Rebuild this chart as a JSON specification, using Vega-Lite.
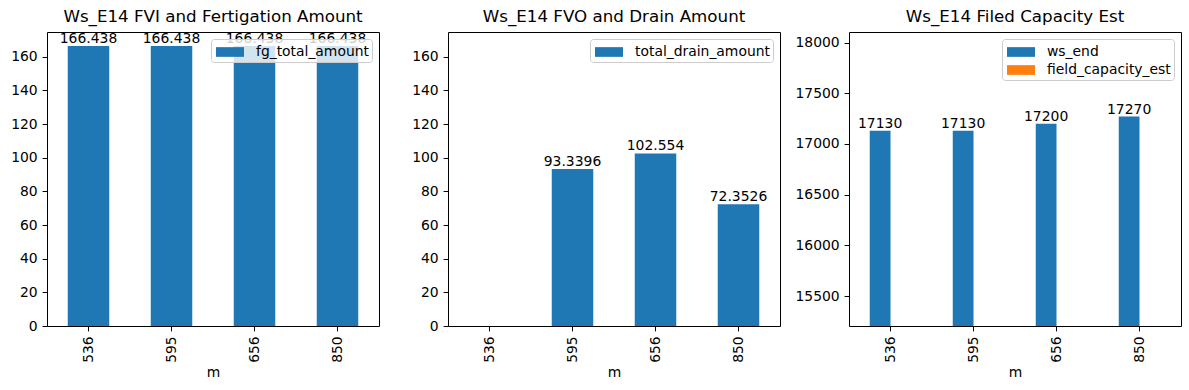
{
  "$schema": "https://vega.github.io/schema/vega-lite/v6.json",
  "padding": {"left": 10, "top": 8, "right": 9, "bottom": 0},
  "spacing": 69,
  "bounds": "flush",
  "resolve": {"scale": {"color": "independent", "x": "independent", "y": "independent", "xOffset": "independent"}, "legend": {"color": "independent"}},
  "config": {
    "font": "DejaVu Sans",
    "view": {"stroke": "black", "strokeWidth": 1},
    "axis": {"domain": false, "grid": false, "tickColor": "black", "tickSize": 4.9, "tickWidth": 1,
      "labelFontSize": 13.9, "labelColor": "black", "labelPadding": 4.9, "labelFont": "DejaVu Sans",
      "titleFontSize": 13.9, "titleFontWeight": "normal", "titleColor": "black", "titleFont": "DejaVu Sans"},
    "axisY": {"title": null, "format": "d"},
    "axisX": {"labelAngle": -90, "titlePadding": 3},
    "title": {"fontSize": 16.7, "fontWeight": "normal", "font": "DejaVu Sans", "color": "black", "offset": 6, "frame": "group"},
    "legend": {"orient": "top-right", "offset": 7, "fillColor": "rgba(255,255,255,0.8)", "strokeColor": "#cccccc",
      "cornerRadius": 3, "padding": 3, "labelFontSize": 13.9, "labelFont": "DejaVu Sans", "labelColor": "black",
      "symbolType": "M-1.4,-0.485L1.4,-0.485L1.4,0.485L-1.4,0.485Z", "symbolSize": 400, "symbolStrokeWidth": 0,
      "symbolOffset": 6, "symbolOpacity": 1, "labelOffset": 16, "rowPadding": 1, "title": null}
  },
  "hconcat": [
    {
      "title": "Ws_E14 FVI and Fertigation Amount",
      "width": 332, "height": 294,
      "data": {"values": [
        {"m": "536", "series": "fg_total_amount", "value": 166.438},
        {"m": "595", "series": "fg_total_amount", "value": 166.438},
        {"m": "656", "series": "fg_total_amount", "value": 166.438},
        {"m": "850", "series": "fg_total_amount", "value": 166.438}
      ]},
      "encoding": {
        "x": {"field": "m", "type": "nominal", "title": "m", "scale": {"domain": ["536", "595", "656", "850"], "paddingInner": 0.5, "paddingOuter": 0.25}},
        "y": {"field": "value", "type": "quantitative", "scale": {"domain": [0, 174.76], "nice": false}, "axis": {"values": [0,20,40,60,80,100,120,140,160]}}
      },
      "layer": [
        {"mark": {"type": "bar", "color": "#1f77b4"},
         "encoding": {"color": {"field": "series", "type": "nominal", "scale": {"domain": ["fg_total_amount"], "range": ["#1f77b4"]}}}},
        {"mark": {"type": "text", "baseline": "bottom", "fontSize": 13.9, "font": "DejaVu Sans", "color": "black"},
         "encoding": {"text": {"field": "value", "type": "nominal"}}}
      ]
    },
    {
      "title": "Ws_E14 FVO and Drain Amount",
      "width": 332, "height": 294,
      "data": {"values": [
        {"m": "536", "series": "total_drain_amount", "value": null},
        {"m": "595", "series": "total_drain_amount", "value": 93.3396},
        {"m": "656", "series": "total_drain_amount", "value": 102.554},
        {"m": "850", "series": "total_drain_amount", "value": 72.3526}
      ]},
      "encoding": {
        "x": {"field": "m", "type": "nominal", "title": "m", "scale": {"domain": ["536", "595", "656", "850"], "paddingInner": 0.5, "paddingOuter": 0.25}},
        "y": {"field": "value", "type": "quantitative", "scale": {"domain": [0, 174.76], "nice": false}, "axis": {"values": [0,20,40,60,80,100,120,140,160]}}
      },
      "layer": [
        {"mark": {"type": "bar", "color": "#1f77b4"},
         "encoding": {"color": {"field": "series", "type": "nominal", "scale": {"domain": ["total_drain_amount"], "range": ["#1f77b4"]}}}},
        {"transform": [{"filter": "datum.value != null"}],
         "mark": {"type": "text", "baseline": "bottom", "fontSize": 13.9, "font": "DejaVu Sans", "color": "black"},
         "encoding": {"text": {"field": "value", "type": "nominal"}}}
      ]
    },
    {
      "title": "Ws_E14 Filed Capacity Est",
      "width": 332, "height": 294,
      "data": {"values": [
        {"m": "536", "series": "ws_end", "value": 17130},
        {"m": "595", "series": "ws_end", "value": 17130},
        {"m": "656", "series": "ws_end", "value": 17200},
        {"m": "850", "series": "ws_end", "value": 17270},
        {"m": "536", "series": "field_capacity_est", "value": null},
        {"m": "595", "series": "field_capacity_est", "value": null},
        {"m": "656", "series": "field_capacity_est", "value": null},
        {"m": "850", "series": "field_capacity_est", "value": null}
      ]},
      "encoding": {
        "x": {"field": "m", "type": "nominal", "title": "m", "scale": {"domain": ["536", "595", "656", "850"], "paddingInner": 0.5, "paddingOuter": 0.25}},
        "xOffset": {"field": "series", "type": "nominal", "scale": {"domain": ["ws_end", "field_capacity_est"], "paddingInner": 0, "paddingOuter": 0}},
        "y": {"field": "value", "type": "quantitative", "scale": {"domain": [15204, 18105], "nice": false, "zero": false}, "axis": {"values": [15500,16000,16500,17000,17500,18000]}}
      },
      "layer": [
        {"mark": {"type": "bar", "clip": true},
         "encoding": {"color": {"field": "series", "type": "nominal", "scale": {"domain": ["ws_end", "field_capacity_est"], "range": ["#1f77b4", "#ff7f0e"]}}}},
        {"transform": [{"filter": "datum.value != null"}],
         "mark": {"type": "text", "baseline": "bottom", "fontSize": 13.9, "font": "DejaVu Sans", "color": "black"},
         "encoding": {"text": {"field": "value", "type": "nominal"}}}
      ]
    }
  ]
}
